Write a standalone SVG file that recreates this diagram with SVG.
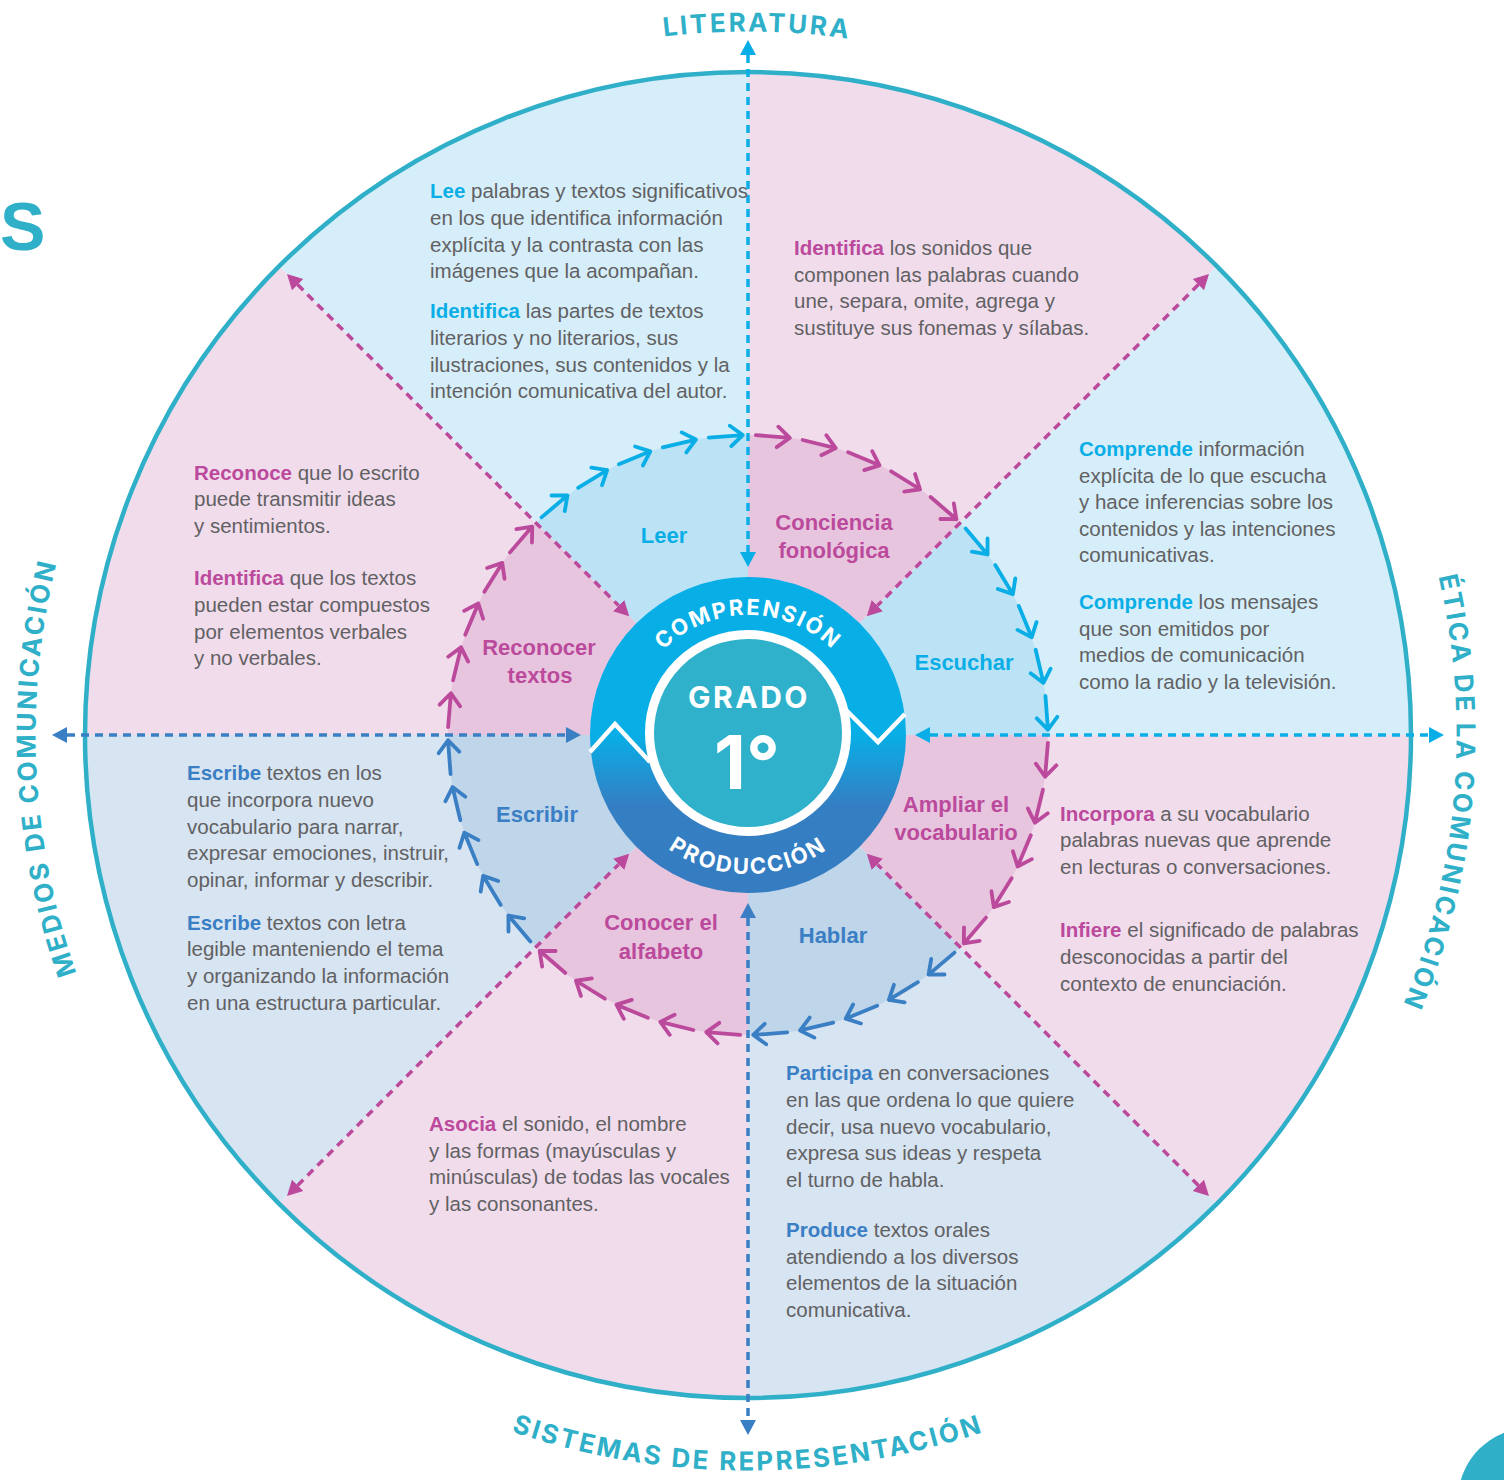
<svg xmlns="http://www.w3.org/2000/svg" xmlns:xlink="http://www.w3.org/1999/xlink" width="1504" height="1480" viewBox="0 0 1504 1480">
<style>
.body{font-family:"Liberation Sans",Arial,sans-serif;font-size:20.5px;fill:#616163}
.kw{font-weight:700}
.tc{fill:#0aaee6}.tp{fill:#bb4a9c}.tb{fill:#3a7ec4}
.lab{font-family:"Liberation Sans",Arial,sans-serif;font-size:22px;font-weight:700;text-anchor:middle}
.ring{font-family:Inter,"Open Sans","Liberation Sans",sans-serif;font-weight:700;fill:#ffffff}
.outer{font-family:Inter,"Open Sans","Liberation Sans",sans-serif;font-weight:700;font-size:26px;fill:#2fb0c8;letter-spacing:2.5px}
.arw{fill:none;stroke-width:3.8;stroke-linecap:round;stroke-linejoin:round}
.ac{stroke:#0aaee6}.ap{stroke:#bb4a9c}.ab{stroke:#3a7ec4}
.dash{fill:none;stroke-width:3.5;stroke-dasharray:8 6}
.lb{fill:#d6eef9}.lbi{fill:#bce3f5}
.pk{fill:#f1dcec}.pki{fill:#e8c5de}
.gb{fill:#d7e4f2}.gbi{fill:#bfd5ea}
</style>
<defs>
<path id="arw" d="M298.07,-33.96 L300,0 M309.57,-12.82 L300,0 L289.04,-11.65"/>
<marker id="mc" markerUnits="userSpaceOnUse" markerWidth="16" markerHeight="18" viewBox="0 -9 16 18" refX="0" refY="0" orient="auto-start-reverse"><path d="M0,-8 L15,0 L0,8 Z" fill="#0aaee6"/></marker>
<marker id="mb" markerUnits="userSpaceOnUse" markerWidth="16" markerHeight="18" viewBox="0 -9 16 18" refX="0" refY="0" orient="auto-start-reverse"><path d="M0,-8 L15,0 L0,8 Z" fill="#3a7ec4"/></marker>
<marker id="mp" markerUnits="userSpaceOnUse" markerWidth="16" markerHeight="18" viewBox="0 -9 16 18" refX="0" refY="0" orient="auto-start-reverse"><path d="M0,-8 L15,0 L0,8 Z" fill="#bb4a9c"/></marker>
<linearGradient id="cg" gradientUnits="userSpaceOnUse" x1="0" y1="577" x2="0" y2="893">
<stop offset="0" stop-color="#08aee6"/><stop offset="0.5" stop-color="#08aee6"/><stop offset="0.72" stop-color="#347fc3"/><stop offset="1" stop-color="#357cc1"/>
</linearGradient>
<path id="pComp" d="M628,735 A120,120 0 0 1 868,735"/>
<path id="pProd" d="M609,735 A139,139 0 0 0 887,735"/>
<path id="pTop" d="M44.5,735 A703.5,703.5 0 0 1 1451.5,735"/>
<path id="pRight" d="M1102.25,121.4 A708.5,708.5 0 0 1 1102.25,1348.6"/>
<path id="pLeft" d="M391.75,1352 A712.5,712.5 0 0 1 391.75,118"/>
<path id="pBottom" d="M111,1102.75 A735.5,735.5 0 0 0 1385,1102.75"/>
</defs>

<rect width="1504" height="1480" fill="#ffffff"/>

<!-- Sectors -->
<g id="sector-leer">
<path class="lb" d="M748,735 L279.2,266.2 A663,663 0 0 1 748,72 Z"/>
<path class="lbi" d="M748,735 L535.9,522.9 A300,300 0 0 1 748,435 Z"/>
</g>
<g id="sector-conciencia">
<path class="pk" d="M748,735 L748,72 A663,663 0 0 1 1216.8,266.2 Z"/>
<path class="pki" d="M748,735 L748,435 A300,300 0 0 1 960.1,522.9 Z"/>
</g>
<g id="sector-escuchar">
<path class="lb" d="M748,735 L1216.8,266.2 A663,663 0 0 1 1411,735 Z"/>
<path class="lbi" d="M748,735 L960.1,522.9 A300,300 0 0 1 1048,735 Z"/>
</g>
<g id="sector-ampliar">
<path class="pk" d="M748,735 L1411,735 A663,663 0 0 1 1216.8,1203.8 Z"/>
<path class="pki" d="M748,735 L1048,735 A300,300 0 0 1 960.1,947.1 Z"/>
</g>
<g id="sector-hablar">
<path class="gb" d="M748,735 L1216.8,1203.8 A663,663 0 0 1 748,1398 Z"/>
<path class="gbi" d="M748,735 L960.1,947.1 A300,300 0 0 1 748,1035 Z"/>
</g>
<g id="sector-conocer">
<path class="pk" d="M748,735 L748,1398 A663,663 0 0 1 279.2,1203.8 Z"/>
<path class="pki" d="M748,735 L748,1035 A300,300 0 0 1 535.9,947.1 Z"/>
</g>
<g id="sector-escribir">
<path class="gb" d="M748,735 L279.2,1203.8 A663,663 0 0 1 85,735 Z"/>
<path class="gbi" d="M748,735 L535.9,947.1 A300,300 0 0 1 448,735 Z"/>
</g>
<g id="sector-reconocer">
<path class="pk" d="M748,735 L85,735 A663,663 0 0 1 279.2,266.2 Z"/>
<path class="pki" d="M748,735 L448,735 A300,300 0 0 1 535.9,522.9 Z"/>
</g>
<circle id="outer-ring" cx="748" cy="735" r="663" fill="none" stroke="#2fb0c8" stroke-width="4.5"/>

<!-- Connectors -->
<g id="connectors">
<g id="flow-arrows">
<use href="#arw" class="arw ac" transform="translate(748 735) rotate(-127)"/>
<use href="#arw" class="arw ac" transform="translate(748 735) rotate(-118)"/>
<use href="#arw" class="arw ac" transform="translate(748 735) rotate(-109)"/>
<use href="#arw" class="arw ac" transform="translate(748 735) rotate(-100)"/>
<use href="#arw" class="arw ac" transform="translate(748 735) rotate(-91)"/>
<use href="#arw" class="arw ap" transform="translate(748 735) rotate(-82)"/>
<use href="#arw" class="arw ap" transform="translate(748 735) rotate(-73)"/>
<use href="#arw" class="arw ap" transform="translate(748 735) rotate(-64)"/>
<use href="#arw" class="arw ap" transform="translate(748 735) rotate(-55)"/>
<use href="#arw" class="arw ap" transform="translate(748 735) rotate(-46)"/>
<use href="#arw" class="arw ac" transform="translate(748 735) rotate(-37)"/>
<use href="#arw" class="arw ac" transform="translate(748 735) rotate(-28)"/>
<use href="#arw" class="arw ac" transform="translate(748 735) rotate(-19)"/>
<use href="#arw" class="arw ac" transform="translate(748 735) rotate(-10)"/>
<use href="#arw" class="arw ac" transform="translate(748 735) rotate(-1)"/>
<use href="#arw" class="arw ap" transform="translate(748 735) rotate(8)"/>
<use href="#arw" class="arw ap" transform="translate(748 735) rotate(17)"/>
<use href="#arw" class="arw ap" transform="translate(748 735) rotate(26)"/>
<use href="#arw" class="arw ap" transform="translate(748 735) rotate(35)"/>
<use href="#arw" class="arw ap" transform="translate(748 735) rotate(44)"/>
<use href="#arw" class="arw ab" transform="translate(748 735) rotate(53)"/>
<use href="#arw" class="arw ab" transform="translate(748 735) rotate(62)"/>
<use href="#arw" class="arw ab" transform="translate(748 735) rotate(71)"/>
<use href="#arw" class="arw ab" transform="translate(748 735) rotate(80)"/>
<use href="#arw" class="arw ab" transform="translate(748 735) rotate(89)"/>
<use href="#arw" class="arw ap" transform="translate(748 735) rotate(98)"/>
<use href="#arw" class="arw ap" transform="translate(748 735) rotate(107)"/>
<use href="#arw" class="arw ap" transform="translate(748 735) rotate(116)"/>
<use href="#arw" class="arw ap" transform="translate(748 735) rotate(125)"/>
<use href="#arw" class="arw ap" transform="translate(748 735) rotate(134)"/>
<use href="#arw" class="arw ab" transform="translate(748 735) rotate(143)"/>
<use href="#arw" class="arw ab" transform="translate(748 735) rotate(152)"/>
<use href="#arw" class="arw ab" transform="translate(748 735) rotate(161)"/>
<use href="#arw" class="arw ab" transform="translate(748 735) rotate(170)"/>
<use href="#arw" class="arw ab" transform="translate(748 735) rotate(179)"/>
<use href="#arw" class="arw ap" transform="translate(748 735) rotate(188)"/>
<use href="#arw" class="arw ap" transform="translate(748 735) rotate(197)"/>
<use href="#arw" class="arw ap" transform="translate(748 735) rotate(206)"/>
<use href="#arw" class="arw ap" transform="translate(748 735) rotate(215)"/>
<use href="#arw" class="arw ap" transform="translate(748 735) rotate(224)"/>
</g>
<g id="axes">
<line class="dash" stroke="#0aaee6" x1="748" y1="55" x2="748" y2="552" marker-start="url(#mc)" marker-end="url(#mc)"/>
<line class="dash" stroke="#3a7ec4" x1="748" y1="918" x2="748" y2="1420" marker-start="url(#mb)" marker-end="url(#mb)"/>
<line class="dash" stroke="#3a7ec4" x1="67" y1="735" x2="566" y2="735" marker-start="url(#mb)" marker-end="url(#mb)"/>
<line class="dash" stroke="#0aaee6" x1="930" y1="735" x2="1429" y2="735" marker-start="url(#mc)" marker-end="url(#mc)"/>
<line class="dash" stroke="#bb4a9c" x1="297.6" y1="284.6" x2="618.6" y2="605.6" marker-start="url(#mp)" marker-end="url(#mp)"/>
<line class="dash" stroke="#bb4a9c" x1="1198.4" y1="284.6" x2="877.4" y2="605.6" marker-start="url(#mp)" marker-end="url(#mp)"/>
<line class="dash" stroke="#bb4a9c" x1="1198.4" y1="1185.4" x2="877.4" y2="864.4" marker-start="url(#mp)" marker-end="url(#mp)"/>
<line class="dash" stroke="#bb4a9c" x1="297.6" y1="1185.4" x2="618.6" y2="864.4" marker-start="url(#mp)" marker-end="url(#mp)"/>
</g>
</g>

<!-- Center -->
<g id="center">
<circle cx="748" cy="735" r="158" fill="url(#cg)"/>
<polyline points="590,752 615,724 650,762" fill="none" stroke="#ffffff" stroke-width="4.5" stroke-linejoin="miter"/>
<polyline points="846,710 878,742 905,714" fill="none" stroke="#ffffff" stroke-width="4.5" stroke-linejoin="miter"/>
<circle cx="748" cy="733" r="98.5" fill="#2fb1cb" stroke="#ffffff" stroke-width="9"/>
<text class="ring" font-size="22" letter-spacing="2"><textPath href="#pComp" startOffset="50%" text-anchor="middle">COMPRENSIÓN</textPath></text>
<text class="ring" font-size="22" letter-spacing="2"><textPath href="#pProd" startOffset="50%" text-anchor="middle">PRODUCCIÓN</textPath></text>
<text class="ring" x="749" y="708" font-size="30" letter-spacing="2.5" text-anchor="middle">GRADO</text>
<text class="ring" x="747" y="789" font-size="74" text-anchor="middle">1°</text>
</g>

<!-- Sector labels -->
<g id="labels">
<text class="lab tc" x="664" y="543">Leer</text>
<text class="lab tp" x="834" y="530">Conciencia<tspan x="834" y="558">fonológica</tspan></text>
<text class="lab tc" x="964" y="670">Escuchar</text>
<text class="lab tp" x="956" y="812">Ampliar el<tspan x="956" y="840">vocabulario</tspan></text>
<text class="lab tb" x="833" y="943">Hablar</text>
<text class="lab tp" x="661" y="930">Conocer el<tspan x="661" y="959">alfabeto</tspan></text>
<text class="lab tb" x="537" y="822">Escribir</text>
<text class="lab tp" x="539" y="655">Reconocer<tspan x="540" y="683">textos</tspan></text>
</g>

<!-- Descriptions -->
<g id="desc-leer">
<text class="body"><tspan x="430" y="198"><tspan class="kw tc">Lee</tspan> palabras y textos significativos</tspan><tspan x="430" y="225">en los que identifica información</tspan><tspan x="430" y="252">explícita y la contrasta con las</tspan><tspan x="430" y="278">imágenes que la acompañan.</tspan><tspan x="430" y="318"><tspan class="kw tc">Identifica</tspan> las partes de textos</tspan><tspan x="430" y="345">literarios y no literarios, sus</tspan><tspan x="430" y="372">ilustraciones, sus contenidos y la</tspan><tspan x="430" y="398">intención comunicativa del autor.</tspan></text>
</g>
<g id="desc-conciencia">
<text class="body"><tspan x="794" y="255"><tspan class="kw tp">Identifica</tspan> los sonidos que</tspan><tspan x="794" y="282">componen las palabras cuando</tspan><tspan x="794" y="308">une, separa, omite, agrega y</tspan><tspan x="794" y="335">sustituye sus fonemas y sílabas.</tspan></text>
</g>
<g id="desc-escuchar">
<text class="body"><tspan x="1079" y="456"><tspan class="kw tc">Comprende</tspan> información</tspan><tspan x="1079" y="483">explícita de lo que escucha</tspan><tspan x="1079" y="509">y hace inferencias sobre los</tspan><tspan x="1079" y="536">contenidos y las intenciones</tspan><tspan x="1079" y="562">comunicativas.</tspan><tspan x="1079" y="609"><tspan class="kw tc">Comprende</tspan> los mensajes</tspan><tspan x="1079" y="636">que son emitidos por</tspan><tspan x="1079" y="662">medios de comunicación</tspan><tspan x="1079" y="689">como la radio y la televisión.</tspan></text>
</g>
<g id="desc-ampliar">
<text class="body"><tspan x="1060" y="821"><tspan class="kw tp">Incorpora</tspan> a su vocabulario</tspan><tspan x="1060" y="847">palabras nuevas que aprende</tspan><tspan x="1060" y="874">en lecturas o conversaciones.</tspan><tspan x="1060" y="937"><tspan class="kw tp">Infiere</tspan> el significado de palabras</tspan><tspan x="1060" y="964">desconocidas a partir del</tspan><tspan x="1060" y="991">contexto de enunciación.</tspan></text>
</g>
<g id="desc-hablar">
<text class="body"><tspan x="786" y="1080"><tspan class="kw tb">Participa</tspan> en conversaciones</tspan><tspan x="786" y="1107">en las que ordena lo que quiere</tspan><tspan x="786" y="1134">decir, usa nuevo vocabulario,</tspan><tspan x="786" y="1160">expresa sus ideas y respeta</tspan><tspan x="786" y="1187">el turno de habla.</tspan><tspan x="786" y="1237"><tspan class="kw tb">Produce</tspan> textos orales</tspan><tspan x="786" y="1264">atendiendo a los diversos</tspan><tspan x="786" y="1290">elementos de la situación</tspan><tspan x="786" y="1317">comunicativa.</tspan></text>
</g>
<g id="desc-conocer">
<text class="body"><tspan x="429" y="1131"><tspan class="kw tp">Asocia</tspan> el sonido, el nombre</tspan><tspan x="429" y="1158">y las formas (mayúsculas y</tspan><tspan x="429" y="1184">minúsculas) de todas las vocales</tspan><tspan x="429" y="1211">y las consonantes.</tspan></text>
</g>
<g id="desc-escribir">
<text class="body"><tspan x="187" y="780"><tspan class="kw tb">Escribe</tspan> textos en los</tspan><tspan x="187" y="807">que incorpora nuevo</tspan><tspan x="187" y="834">vocabulario para narrar,</tspan><tspan x="187" y="860">expresar emociones, instruir,</tspan><tspan x="187" y="887">opinar, informar y describir.</tspan><tspan x="187" y="930"><tspan class="kw tb">Escribe</tspan> textos con letra</tspan><tspan x="187" y="956">legible manteniendo el tema</tspan><tspan x="187" y="983">y organizando la información</tspan><tspan x="187" y="1010">en una estructura particular.</tspan></text>
</g>
<g id="desc-reconocer">
<text class="body"><tspan x="194" y="480"><tspan class="kw tp">Reconoce</tspan> que lo escrito</tspan><tspan x="194" y="506">puede transmitir ideas</tspan><tspan x="194" y="533">y sentimientos.</tspan><tspan x="194" y="585"><tspan class="kw tp">Identifica</tspan> que los textos</tspan><tspan x="194" y="612">pueden estar compuestos</tspan><tspan x="194" y="639">por elementos verbales</tspan><tspan x="194" y="665">y no verbales.</tspan></text>
</g>

<!-- Outer axis labels -->
<g id="axis-labels">
<text class="outer"><textPath href="#pTop" startOffset="1114" text-anchor="middle">LITERATURA</textPath></text>
<text class="outer"><textPath href="#pRight" startOffset="801" text-anchor="middle">ÉTICA DE LA COMUNICACIÓN</textPath></text>
<text class="outer"><textPath href="#pLeft" startOffset="712" text-anchor="middle">MEDIOS DE COMUNICACIÓN</textPath></text>
<text class="outer" letter-spacing="1.2"><textPath href="#pBottom" startOffset="50%" text-anchor="middle">SISTEMAS DE REPRESENTACIÓN</textPath></text>
</g>

<g id="page-marks">
<text x="0" y="250" font-family="'Liberation Sans',Arial,sans-serif" font-weight="700" font-size="68" fill="#2fb0c8">S</text>
<circle cx="1530" cy="1500" r="72" fill="#2fb0c8"/>
</g>
</svg>
